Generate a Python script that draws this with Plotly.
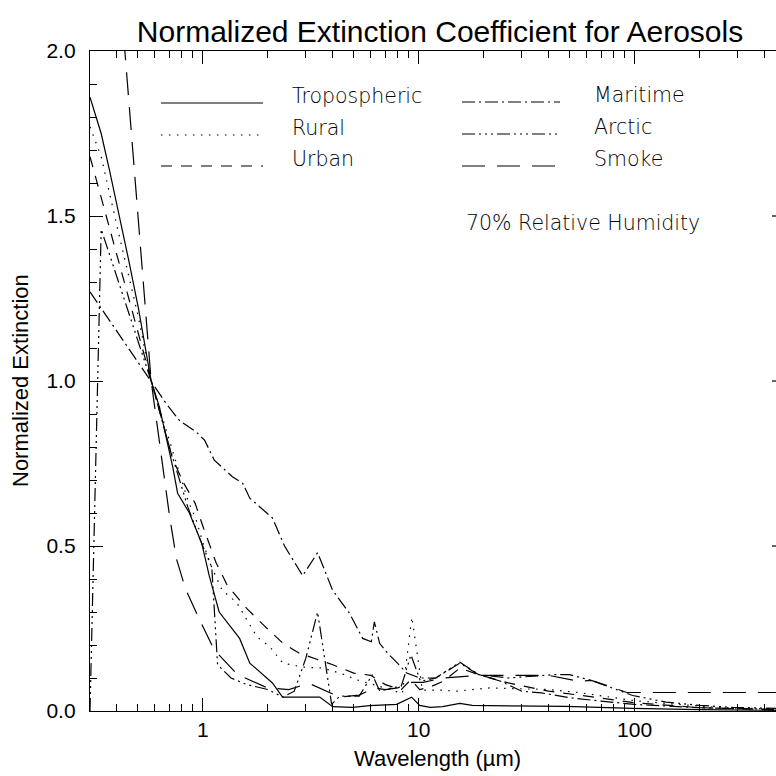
import numpy as np
import plotly.graph_objects as go

# ---------------- data (wavelength in micrometres, normalized extinction) -------------
trop_wl = [0.3, 0.338, 0.369, 0.402, 0.452, 0.503, 0.576, 0.63, 0.678, 0.725, 0.764, 0.866,
           0.986, 1.07, 1.19, 1.48, 1.65, 2.1, 2.34, 3.48, 3.99, 4.94, 5.93, 6.59, 7.9, 9.27,
           10.1, 11.3, 12.9, 15.5, 17.7, 21.3, 48, 98, 200, 452]
trop_val = [1.86, 1.75, 1.64, 1.53, 1.37, 1.22, 1.0, 0.92, 0.83, 0.74, 0.66, 0.60,
            0.51, 0.41, 0.30, 0.22, 0.145, 0.085, 0.042, 0.042, 0.013, 0.011, 0.016, 0.018, 0.02, 0.042,
            0.017, 0.011, 0.013, 0.023, 0.017, 0.016, 0.014, 0.008, 0.004, 0.002]

rural_wl = [0.3, 0.338, 0.4, 0.45, 0.5, 0.576, 0.7, 0.85, 0.93, 1.0, 1.1, 1.23, 1.43, 1.6, 1.78,
            2.04, 2.35, 2.9, 3.6, 4.4, 5.2, 6.8, 7.9, 8.4, 9.3, 10.4, 12.9, 14.9, 21.3, 40,
            55, 98, 140, 250, 452]
rural_val = [1.77, 1.68, 1.47, 1.33, 1.20, 1.0, 0.82, 0.64, 0.58, 0.51, 0.435, 0.365, 0.33, 0.275, 0.225,
             0.195, 0.145, 0.133, 0.13, 0.113, 0.094, 0.072, 0.057, 0.053, 0.285, 0.063, 0.063, 0.06, 0.07, 0.065,
             0.056, 0.032, 0.023, 0.01, 0.006]

urban_wl = [0.3, 0.45, 0.576, 0.72, 0.8, 0.92, 1.0, 1.15, 1.3, 1.6, 1.95, 2.35, 2.8, 4.0, 5.0,
            6.0, 7.0, 8.3, 9.2, 10.1, 11.5, 13, 15.5, 19, 26, 40, 60, 100, 200, 452]
urban_val = [1.68, 1.26, 1.0, 0.77, 0.70, 0.63, 0.56, 0.45, 0.38, 0.31, 0.255, 0.205, 0.175, 0.14, 0.115,
             0.108, 0.08, 0.065, 0.095, 0.065, 0.075, 0.09, 0.13, 0.11, 0.085, 0.06, 0.045, 0.025, 0.01, 0.004]

maritime_wl = [0.3, 0.576, 0.679, 0.78, 0.934, 1.02, 1.13, 1.37, 1.53, 1.65, 2.1, 2.39, 2.6, 2.9, 3.4,
               3.99, 4.78, 5.5, 6.03, 6.23, 6.59, 7.18, 7.97, 8.8, 10.1, 12, 15.5, 19, 24, 30,
               37, 50, 70, 100, 200, 452]
maritime_val = [1.27, 1.0, 0.93, 0.88, 0.845, 0.82, 0.76, 0.71, 0.69, 0.645, 0.585, 0.50, 0.46, 0.41, 0.48,
                0.366, 0.296, 0.22, 0.21, 0.27, 0.205, 0.175, 0.145, 0.115, 0.10, 0.10, 0.145, 0.11, 0.09, 0.06,
                0.055, 0.04, 0.03, 0.02, 0.01, 0.005]

arctic_wl = [0.3, 0.338, 0.576, 0.7, 0.85, 0.97, 1.10, 1.17, 1.35, 1.6, 2.0, 2.35, 2.65, 3.0, 3.4,
             3.95, 4.3, 5.3, 6.1, 6.6, 7.5, 8.3, 9.2, 10.2, 12, 15.5, 19, 26, 42, 50,
             63, 80, 98, 140, 200, 285, 452]
arctic_val = [0.0, 1.46, 1.0, 0.80, 0.62, 0.52, 0.435, 0.14, 0.10, 0.08, 0.065, 0.042, 0.06, 0.16, 0.30,
              0.02, 0.045, 0.045, 0.11, 0.06, 0.07, 0.075, 0.17, 0.09, 0.10, 0.148, 0.11, 0.10, 0.11, 0.11,
              0.093, 0.068, 0.047, 0.027, 0.017, 0.011, 0.008]

smoke_wl = [0.3, 0.338, 0.576, 0.657, 0.701, 0.755, 0.831, 0.976, 1.13, 1.45, 1.99, 2.5, 2.8, 3.2, 4.3,
            5.3, 6.2, 7.0, 8.0, 9.3, 10.5, 13, 19, 24, 40, 55, 63, 80, 92, 452]
smoke_val = [3.31, 2.90, 1.0, 0.73, 0.59, 0.46, 0.37, 0.27, 0.185, 0.11, 0.07, 0.065, 0.075, 0.08, 0.042,
             0.048, 0.07, 0.065, 0.07, 0.087, 0.087, 0.1, 0.108, 0.108, 0.108, 0.09, 0.093, 0.07, 0.056, 0.056]

series_names = ["Tropospheric", "Rural", "Urban", "Maritime", "Arctic", "Smoke"]
x_tick_vals = [1, 10, 100]
x_tick_text = ["1", "10", "100"]
y_tick_vals = [0.0, 0.5, 1.0, 1.5, 2.0]
y_tick_text = ["0.0", "0.5", "1.0", "1.5", "2.0"]

# ---------------- layout helpers ----------------
W = H = 776
ML, MR, MT, MB = 90, 0, 51, 65
PW, PH = W - ML - MR, H - MT - MB

def pxx(x):
    return (x - ML) / PW

def pxy(y):
    return (H - MB - y) / PH

dashes = {
    "Tropospheric": "solid",
    "Rural": "1.5px,6.5px",
    "Urban": "11px,9px",
    "Maritime": "13px,4px,2px,4px",
    "Arctic": "13px,4px,2px,4px,2px,4px,2px,4px",
    "Smoke": "23px,12px",
}
data = {
    "Tropospheric": (trop_wl, trop_val),
    "Rural": (rural_wl, rural_val),
    "Urban": (urban_wl, urban_val),
    "Maritime": (maritime_wl, maritime_val),
    "Arctic": (arctic_wl, arctic_val),
    "Smoke": (smoke_wl, smoke_val),
}

fig = go.Figure()
for name in series_names:
    wl, val = data[name]
    fig.add_trace(go.Scatter(x=wl, y=val, mode="lines", name=name, showlegend=False,
                             line=dict(color="black", width=1.2, dash=dashes[name])))

tickfont = dict(family="Liberation Sans, Arial, Helvetica, sans-serif", size=21, color="black")
legfont = dict(family="DejaVu Sans, Verdana, sans-serif", size=20.5, color="black", weight=300)

minor_x = [0.4, 0.5, 0.6, 0.7, 0.8, 0.9, 2, 3, 4, 5, 6, 7, 8, 9,
           20, 30, 40, 50, 60, 70, 80, 90, 200, 300, 400]
minor_y = [round(0.1 * i, 1) for i in range(1, 20) if i % 5 != 0]

fig.update_layout(
    width=W, height=H,
    margin=dict(l=ML, r=MR, t=MT, b=MB, pad=0),
    paper_bgcolor="white", plot_bgcolor="white",
    showlegend=False,
    title=dict(text="Normalized Extinction Coefficient for Aerosols",
               font=dict(family="Liberation Sans, Arial, Helvetica, sans-serif", size=30, color="black"),
               x=440 / W, xref="container", xanchor="center",
               y=1 - 31 / H, yref="container", yanchor="middle"),
    xaxis=dict(type="log", range=[np.log10(0.3), np.log10(452)],
               showline=True, linecolor="black", linewidth=1.4, mirror="ticks",
               ticks="inside", ticklen=13, tickwidth=1.2, tickcolor="black",
               tickvals=x_tick_vals, ticktext=x_tick_text, tickfont=tickfont,
               ticklabelstandoff=0,
               minor=dict(ticks="inside", ticklen=7, tickwidth=1.2, tickcolor="black",
                          tickvals=minor_x, showgrid=False),
               showgrid=False, zeroline=False),
    yaxis=dict(range=[0, 2], showline=True, linecolor="black", linewidth=1.4, mirror=False,
               ticks="inside", ticklen=13, tickwidth=1.2, tickcolor="black",
               tickvals=y_tick_vals, ticktext=y_tick_text, tickfont=tickfont,
               ticklabelstandoff=9,
               minor=dict(ticks="inside", ticklen=7, tickwidth=1.2, tickcolor="black",
                          tickvals=minor_y, showgrid=False),
               showgrid=False, zeroline=False),
)

# axis titles
fig.add_annotation(text="Wavelength (\u00b5m)", xref="paper", yref="paper",
                   x=pxx(437), y=pxy(758), xanchor="center", yanchor="middle",
                   showarrow=False, font=dict(family="Liberation Sans, Arial, sans-serif", size=22, color="black"))
fig.add_annotation(text="Normalized Extinction", xref="paper", yref="paper",
                   x=pxx(20), y=pxy(381), xanchor="center", yanchor="middle", textangle=-90,
                   showarrow=False, font=dict(family="Liberation Sans, Arial, sans-serif", size=22, color="black"))

# right-hand axis tick stubs (the right axis itself lies just outside the picture)
for v in [0.5, 1.0, 1.5]:
    fig.add_shape(type="line", xref="paper", yref="y", x0=pxx(772), x1=1, y0=v, y1=v,
                  line=dict(color="black", width=1.2))

# legend: sample lines + labels
legend_rows = [
    ("Tropospheric", 161, 263, 103, 290),
    ("Rural", 161, 263, 135, 290),
    ("Urban", 161, 263, 166, 290),
    ("Maritime", 462, 560, 102, 592),
    ("Arctic", 462, 560, 134, 592),
    ("Smoke", 462, 556, 166, 592),
]
for name, x0, x1, yl, xt in legend_rows:
    fig.add_shape(type="line", xref="paper", yref="paper", x0=pxx(x0), x1=pxx(x1),
                  y0=pxy(yl), y1=pxy(yl), line=dict(color="black", width=1.2, dash=dashes[name]))
    fig.add_annotation(text=name, xref="paper", yref="paper", x=pxx(xt), y=pxy(yl - 7),
                       xanchor="left", yanchor="middle", showarrow=False, font=legfont)

fig.add_annotation(text="70% Relative Humidity", xref="paper", yref="paper", x=pxx(464), y=pxy(223),
                   xanchor="left", yanchor="middle", showarrow=False, font=legfont)

fig.write_html("out.html")
